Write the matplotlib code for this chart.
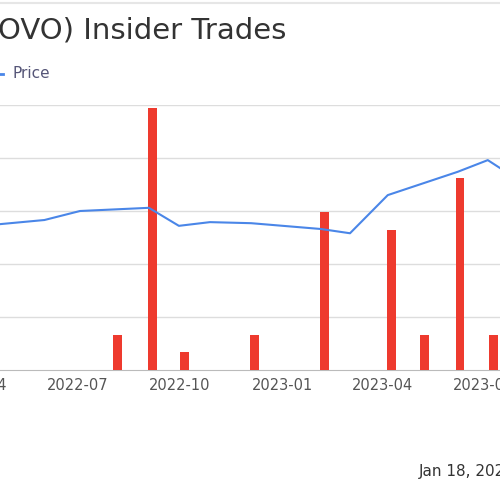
import numpy as np
import pandas as pd
import matplotlib
matplotlib.use('Agg')
from matplotlib import pyplot as plt
import matplotlib.dates as mdates

trade_dates = ['2022-08-06', '2022-09-06', '2022-10-05', '2022-12-07', '2023-02-08',
               '2023-04-09', '2023-05-09', '2023-06-10', '2023-07-10']
trade_sizes = [0.66, 4.94, 0.34, 0.66, 2.98, 2.64, 0.66, 3.62, 0.66]

price_dates = ['2022-04-21', '2022-06-01', '2022-07-03', '2022-09-03', '2022-09-30',
               '2022-10-28', '2022-12-04', '2023-02-05', '2023-03-03', '2023-04-06',
               '2023-06-08', '2023-07-05', '2023-07-19']
price_values = [2.75, 2.83, 3.0, 3.06, 2.72, 2.79, 2.77, 2.66, 2.58, 3.30, 3.74, 3.96, 3.77]


def main():
    fig = plt.figure(figsize=(5, 5), dpi=100)
    ax = fig.add_axes([-0.1, 0.26, 1.2, 0.53])
    ax.bar(pd.to_datetime(trade_dates), trade_sizes, width=8, color='#ee3a2e', zorder=3)
    ax.set_ylim(0, 5)
    ax.set_xlim(pd.Timestamp('2022-03-08'), pd.Timestamp('2023-08-30'))
    ax.set_yticks([1, 2, 3, 4, 5])
    ax.yaxis.grid(True, color='#dddddd', linewidth=1)
    ax.tick_params(axis='y', length=0, labelleft=False)
    ax.xaxis.set_major_locator(mdates.MonthLocator(bymonth=[1, 4, 7, 10]))
    ax.xaxis.set_major_formatter(mdates.DateFormatter('%Y-%m'))
    ax.tick_params(axis='x', colors='#555555', labelsize=10.5, length=0, pad=6)
    for s in ['top', 'left', 'right']:
        ax.spines[s].set_visible(False)
    ax.spines['bottom'].set_color('#bbbbbb')

    ax2 = ax.twinx()
    ax2.plot(pd.to_datetime(price_dates), price_values, color='#4a86e8', linewidth=1.5)
    ax2.set_ylim(0, 5)
    ax2.axis('off')

    fig.lines.append(plt.Line2D([0, 1], [0.994, 0.994], color='#e6e6e6',
                                linewidth=1.5, transform=fig.transFigure))
    fig.text(-0.003, 0.938, 'OVO) Insider Trades', fontsize=21, color='#333333', va='center')
    fig.lines.append(plt.Line2D([0, 0.005], [0.853, 0.853], color='#4a86e8',
                                linewidth=2, transform=fig.transFigure))
    fig.text(0.024, 0.853, 'Price', fontsize=11, color='#555577', va='center')
    fig.text(0.838, 0.057, 'Jan 18, 2024', fontsize=11, color='#333333', va='center')

    fig.savefig('out.png', dpi=100)


if __name__ == '__main__':
    main()
